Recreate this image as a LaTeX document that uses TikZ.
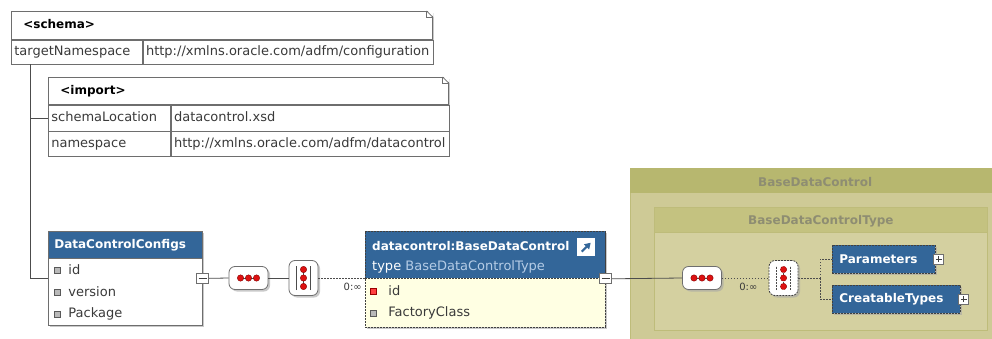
\documentclass[tikz,border=0pt]{standalone}
\usepackage{fontspec}
\setmainfont{DejaVu Sans}
\usetikzlibrary{shadows,calc,arrows.meta}
\definecolor{xblue}{HTML}{336699}
\definecolor{boxline}{HTML}{6E6E6E}
\definecolor{olvhead}{HTML}{B7B76F}
\definecolor{olvbody}{HTML}{CECA96}
\definecolor{olvhead2}{HTML}{C4C280}
\definecolor{olvbody2}{HTML}{D4D0A0}
\definecolor{olvline}{HTML}{BEBC7A}
\definecolor{olvtext}{HTML}{8E8D72}
\definecolor{dcbody}{HTML}{FFFFE3}
\definecolor{typeblue}{HTML}{B5CCE6}
\definecolor{dotred}{HTML}{DD1111}
\definecolor{itemtxt}{HTML}{3A3A3A}
\newcommand\xbold{\bfseries\fontsize{12}{14}\selectfont}
\newcommand\xreg{\fontsize{13}{15}\selectfont}
\newcommand\xsmall{\fontsize{10}{12}\selectfont}
\tikzset{
  shad/.style={drop shadow={shadow xshift=2pt,shadow yshift=-2pt,fill=black!35,opacity=0.6}},
  tablebg/.style={draw=boxline,line width=0.7pt,fill=white,anchor=north west,inner sep=0pt,shad},
  cellbox/.style={draw=boxline,line width=0.7pt,fill=white,anchor=north west,inner xsep=3pt,inner ysep=0pt,
    align=left,text height=10pt,text depth=3pt,font=\xreg,text=itemtxt},
  headbox/.style={cellbox,font=\xbold,text=black,inner xsep=12pt},
  conn/.style={draw=black!70,line width=0.8pt},
  dotconn/.style={draw=black!70,line width=0.8pt,dash pattern=on 1.5pt off 1.5pt},
  itemtext/.style={anchor=west,font=\xreg,text=itemtxt,inner sep=0pt,xshift=8pt},
  attr/.style={fill=gray!55,draw=gray!70!black,line width=0.4pt,minimum size=6pt,inner sep=0pt},
  reqattr/.style={fill=red!75,draw=red!60!black,line width=0.4pt,minimum size=6pt,inner sep=0pt},
  seqbox/.style={draw=boxline,line width=0.8pt,fill=white,rounded corners=6pt,minimum width=39pt,
    minimum height=23pt,inner sep=0pt,shad,
    path picture={
      \draw[black!70,line width=0.5pt] ([xshift=-8pt]path picture bounding box.center) -- ([xshift=8pt]path picture bounding box.center);
      \foreach \d in {-8,0,8}
        \filldraw[fill=dotred,draw=red!50!black,line width=0.4pt] ([xshift=\d pt]path picture bounding box.center) circle (3.2pt);}},
  choicebox/.style={draw=boxline,line width=0.8pt,fill=white,rounded corners=6pt,minimum width=29pt,
    minimum height=35pt,inner sep=0pt,shad,
    path picture={
      \draw[black!70,line width=0.9pt] ([shift={(-7pt,-12pt)}]path picture bounding box.center) -- ([shift={(-7pt,12pt)}]path picture bounding box.center);
      \draw[black!70,line width=0.9pt] ([shift={(7pt,-12pt)}]path picture bounding box.center) -- ([shift={(7pt,12pt)}]path picture bounding box.center);
      \draw[black!70,line width=0.5pt] ([yshift=-9pt]path picture bounding box.center) -- ([yshift=9pt]path picture bounding box.center);
      \foreach \d in {-8.5,0,8.5}
        \filldraw[fill=dotred,draw=red!50!black,line width=0.4pt] ([yshift=\d pt]path picture bounding box.center) circle (3.2pt);}},
  minusbox/.style={draw=boxline,line width=0.7pt,fill=white,minimum width=12pt,minimum height=10pt,inner sep=0pt,
    path picture={\draw[black!75,line width=1pt] ([xshift=-4pt]path picture bounding box.center) -- ([xshift=4pt]path picture bounding box.center);}},
  plusbox/.style={draw=boxline,line width=0.7pt,fill=white,minimum width=10pt,minimum height=10pt,inner sep=0pt,
    path picture={\draw[black!75,line width=1pt] ([xshift=-3pt]path picture bounding box.center) -- ([xshift=3pt]path picture bounding box.center);
      \draw[black!75,line width=1pt] ([yshift=-3pt]path picture bounding box.center) -- ([yshift=3pt]path picture bounding box.center);}},
  elembox/.style={draw=black!75,line width=0.8pt,dash pattern=on 2pt off 1pt,fill=xblue,text=white,font=\xbold,
    anchor=west,inner xsep=7pt,inner ysep=0pt,align=left,minimum height=28pt,shad},
  mult/.style={font=\xsmall,text=itemtxt,inner sep=0pt},
  olvtitle/.style={font=\xbold,text=olvtext,inner sep=0pt},
}
\begin{document}
\begin{tikzpicture}[x=1pt,y=-1pt]
\useasboundingbox (0,0) rectangle (992,339);
\clip (0,0) rectangle (992,339);
\fill[white] (0,0) rectangle (992,339);

% ---- olive container ----
\node[fill=olvbody,draw=olvline,line width=0.8pt,anchor=north west,minimum width=370pt,minimum height=180pt,inner sep=0pt] (outer) at (630,168) {};
\node[fill=olvhead,anchor=north west,minimum width=370pt,minimum height=25pt,inner sep=0pt] (outerh) at (outer.north west) {};
\node[olvtitle] at ($(outerh.center)+(0,1)$) {BaseDataControl};
\node[fill=olvbody2,draw=olvline,line width=0.8pt,anchor=north west,minimum width=333pt,minimum height=123pt,inner sep=0pt] (inner) at (654,207) {};
\node[fill=olvhead2,draw=olvline,line width=0.8pt,anchor=north west,minimum width=333pt,minimum height=25pt,inner sep=0pt] (innerh) at (inner.north west) {};
\node[olvtitle] at ($(innerh.center)+(0,1)$) {BaseDataControlType};

% ---- schema table ----
\node[tablebg,minimum width=421pt,minimum height=52pt] (schema) at (11,11) {};
\node[headbox,text width=397pt,minimum height=28pt] (schemah) at (schema.north west) {<schema>};
\node[cellbox,text width=125pt,minimum height=24pt] (tn) at (schemah.south west) {targetNamespace};
\node[cellbox,text width=284pt,minimum height=24pt] (tnv) at (tn.north east) {http://xmlns.oracle.com/adfm/configuration};
\fill[white] ($(schemah.north east)+(-6,-1)$) -- ($(schemah.north east)+(1,-1)$) -- ($(schemah.north east)+(1,6)$) -- cycle;
\draw[boxline,line width=0.7pt] ($(schemah.north east)+(-6,0)$) -- ($(schemah.north east)+(0,6)$);
\draw[boxline,line width=0.5pt] ($(schemah.north east)+(-6,0)$) -- ($(schemah.north east)+(-6,6)$) -- ($(schemah.north east)+(0,6)$);

% ---- import table ----
\node[tablebg,minimum width=400pt,minimum height=78pt] (import) at (48,77) {};
\node[headbox,text width=376pt,minimum height=27pt] (importh) at (import.north west) {<import>};
\node[cellbox,text width=116pt,minimum height=26pt] (sl) at (importh.south west) {schemaLocation};
\node[cellbox,text width=272pt,minimum height=26pt] (slv) at (sl.north east) {datacontrol.xsd};
\node[cellbox,text width=116pt,minimum height=25pt] (ns) at (sl.south west) {namespace};
\node[cellbox,text width=272pt,minimum height=25pt] (nsv) at (ns.north east) {http://xmlns.oracle.com/adfm/datacontrol};
\fill[white] ($(importh.north east)+(-6,-1)$) -- ($(importh.north east)+(1,-1)$) -- ($(importh.north east)+(1,6)$) -- cycle;
\draw[boxline,line width=0.7pt] ($(importh.north east)+(-6,0)$) -- ($(importh.north east)+(0,6)$);
\draw[boxline,line width=0.5pt] ($(importh.north east)+(-6,0)$) -- ($(importh.north east)+(-6,6)$) -- ($(importh.north east)+(0,6)$);

% ---- DataControlConfigs ----
\node[tablebg,minimum width=154pt,minimum height=94pt] (dcc) at (48,231) {};
\node[fill=xblue,draw=boxline,line width=0.7pt,anchor=north west,minimum height=27pt,text width=142pt,inner xsep=6pt,inner ysep=0pt,
  align=left,text=white,font=\xbold] (dcch) at (dcc.north west) {DataControlConfigs};
\node[attr] (a1) at (57,270) {};
\node[itemtext] at (a1.east) {id};
\node[attr] (a2) at (57,292) {};
\node[itemtext] at (a2.east) {version};
\node[attr] (a3) at (57,314) {};
\node[itemtext] at (a3.east) {Package};
\node[minusbox] (m1) at (dcc.east) {};

% ---- connectors from schema ----
\coordinate (trunk) at ($(tn.south west)+(19,0)$);
\draw[conn] (trunk) |- (dcc.west);
\draw[conn] (trunk |- sl.west) -- (sl.west);

% ---- first compositor pair ----
\node[seqbox] (seq1) at (248.5,278) {};
\node[choicebox] (ch1) at (303.5,278) {};
\draw[conn] (m1.east) -- (seq1.west);
\draw[conn] (seq1.east) -- (ch1.west);

% ---- datacontrol:BaseDataControl ----
\node[draw=black!75,line width=0.8pt,dash pattern=on 2pt off 1pt,fill=dcbody,anchor=north west,minimum width=240pt,minimum height=96pt,inner sep=0pt,shad] (dc) at (365,231) {};
\node[fill=xblue,draw=black!75,line width=0.8pt,dash pattern=on 2pt off 1pt,anchor=north west,minimum width=240pt,minimum height=47pt,inner sep=0pt] (dch) at (dc.north west) {};
\node[anchor=west,inner sep=0pt,font=\xbold,text=white] (dct) at (372,246) {datacontrol:BaseDataControl};
\node[anchor=west,inner sep=0pt,font=\xreg,text=white] (dcty) at (372,267) {type \textcolor{typeblue}{BaseDataControlType}};
\node[fill=white,anchor=north west,minimum size=18pt,inner sep=0pt,
  path picture={\draw[xblue,line width=2pt,-{Triangle[length=6pt,width=7pt]}] ([shift={(-4.5pt,-4.5pt)}]path picture bounding box.center) -- ([shift={(4.5pt,4.5pt)}]path picture bounding box.center);}] (lnk) at (577,238) {};
\node[reqattr] (b1) at (373,291) {};
\node[itemtext,xshift=4pt] at (b1.east) {id};
\node[attr] (b2) at (373,313) {};
\node[itemtext,xshift=4pt] at (b2.east) {FactoryClass};
\node[minusbox] (m2) at (dch.south east) {};
\draw[dotconn] (ch1.east) -- (ch1.east -| dc.west);
\node[mult,anchor=north east,xshift=-3pt,yshift=-5pt] at (ch1.east -| dc.west) {0:∞};

% ---- second compositor pair ----
\node[seqbox] (seq2) at (702,278) {};
\node[choicebox,dash pattern=on 2pt off 1pt,draw=black!75] (ch2) at (783.5,278) {};
\draw[conn] (m2.east) -- (seq2.west);
\draw[dotconn] (seq2.east) -- (ch2.west);
\node[mult,anchor=north east,xshift=-11pt,yshift=-5pt] at (ch2.west) {0:∞};

% ---- child elements ----
\node[elembox,text width=89pt] (par) at (832,259) {Parameters};
\node[elembox,text width=114pt] (ct) at (832,299) {CreatableTypes};
\node[plusbox,xshift=3pt] (p1) at (par.east) {};
\node[plusbox,xshift=3pt] (p2) at (ct.east) {};
\coordinate (br) at (820,278);
\draw[dotconn] (ch2.east) -- (br);
\draw[dotconn] (br) |- (par.west);
\draw[dotconn] (br) |- (ct.west);
\end{tikzpicture}
\end{document}
